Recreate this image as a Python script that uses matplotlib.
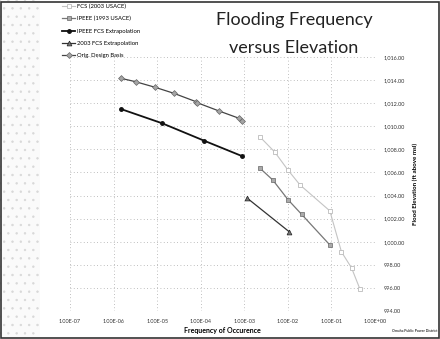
import matplotlib
matplotlib.use("Agg")
import matplotlib.pyplot as plt
from matplotlib.patches import Rectangle
from matplotlib.ticker import FuncFormatter, LogLocator, NullLocator

# Values (frequency per year, elevation ft msl)
fcs_2003_freq = [2.3e-3, 5.0e-3, 1.0e-2, 1.9e-2, 9.2e-2, 0.17, 0.29, 0.45]
fcs_2003_elev = [1009.07, 1007.77, 1006.22, 1004.92, 1002.67, 999.12, 997.73, 995.91]

ipeee_1993_freq = [2.3e-3, 4.5e-3, 1.02e-2, 2.06e-2, 9.2e-2]
ipeee_1993_elev = [1006.36, 1005.35, 1003.62, 1002.38, 999.72]

ipeee_extrap_freq = [1.46e-6, 1.3e-5, 1.2e-4, 8.7e-4]
ipeee_extrap_elev = [1011.50, 1010.26, 1008.75, 1007.43]

fcs_extrap_freq = [1.17e-3, 1.07e-2]
fcs_extrap_elev = [1003.77, 1000.87]

orig_freq = [1.46e-6, 3.2e-6, 8.9e-6, 2.4e-5, 7.8e-5, 8.3e-5, 2.65e-4, 7.6e-4, 8.7e-4]
orig_elev = [1014.16, 1013.86, 1013.38, 1012.86, 1012.13, 1012.04, 1011.32, 1010.69, 1010.48]

series_labels = ["FCS (2003 USACE)", "IPEEE (1993 USACE)", "IPEEE FCS Extrapolation",
                 "2003 FCS Extrapolation", "Orig. Design Basis"]

W, H = 440, 339
fig = plt.figure(figsize=(W / 100, H / 100), dpi=100)
plt.rcParams["font.family"] = ["Lato", "DejaVu Sans"]
plt.rcParams["hatch.linewidth"] = 0.5

# scanned slide texture on the left and a frame round the slide
fig.patches.append(Rectangle((0, 0), 40 / W, 1, transform=fig.transFigure,
                             facecolor="#fafafa", edgecolor="#d8d8d8",
                             hatch="..", lw=0, zorder=0))
fig.patches.append(Rectangle((0.003, 0.004), 0.994, 0.99, transform=fig.transFigure,
                             fill=False, edgecolor="#333333", lw=1.2, zorder=5))

ax = fig.add_axes([70 / W, (H - 311) / H, (375 - 70) / W, (311 - 57) / H])
ax.set_xscale("log")
ax.set_xlim(1e-7, 1e0)
ax.set_ylim(994, 1016)

ax.plot(fcs_2003_freq, fcs_2003_elev, color="#c4c4c4", lw=0.8, marker="s", ms=3,
        mfc="white", mec="#bbbbbb", mew=0.6, label=series_labels[0])
ax.plot(ipeee_1993_freq, ipeee_1993_elev, color="#777777", lw=0.9, marker="s", ms=2.8,
        mfc="#aaaaaa", mec="#666666", mew=0.5, label=series_labels[1])
ax.plot(ipeee_extrap_freq, ipeee_extrap_elev, color="#111111", lw=1.3, marker="o", ms=2.5,
        mfc="#111111", mec="#111111", label=series_labels[2])
ax.plot(fcs_extrap_freq, fcs_extrap_elev, color="#333333", lw=0.9, marker="^", ms=3.5,
        mfc="#777777", mec="#222222", mew=0.5, label=series_labels[3])
ax.plot(orig_freq, orig_elev, color="#444444", lw=0.9, marker="D", ms=3,
        mfc="#a5a5a5", mec="#666666", mew=0.5, label=series_labels[4])

ax.xaxis.set_major_locator(LogLocator(base=10, numticks=10))
ax.xaxis.set_minor_locator(NullLocator())
ax.xaxis.set_major_formatter(FuncFormatter(lambda v, p: f"{v:.2E}"))
ax.set_yticks(range(994, 1017, 2))
ax.yaxis.set_major_formatter(FuncFormatter(lambda v, p: f"{v:,.2f}"))
ax.yaxis.tick_right()
ax.yaxis.set_label_position("right")
ax.tick_params(axis="both", length=0, labelsize=4, colors="#333333", pad=6)
for s in ax.spines.values():
    s.set_visible(False)
ax.grid(True, ls=(0, (1, 3)), color="#aaaaaa", lw=0.6)
ax.set_xlabel("Frequency of Occurence", fontsize=5, fontweight="bold", labelpad=2)
ax.set_ylabel("Flood Elevation (ft above msl)", fontsize=4.5, fontweight="bold", labelpad=6)

fig.text(294 / W, 1 - 20 / H, "Flooding Frequency", ha="center", va="center",
         fontsize=13, color="#222222")
fig.text(294 / W, 1 - 48 / H, "versus Elevation", ha="center", va="center",
         fontsize=13, color="#222222")

fig.legend(loc="upper left", bbox_to_anchor=(60 / W, 1 - 1 / H), frameon=False,
           fontsize=4.2, labelspacing=1.25, handlelength=2.2, handletextpad=0.3,
           borderaxespad=0)

fig.text(415 / W, 1 - 332 / H, "Omaha Public Power District", ha="center",
         fontsize=2.5, fontweight="bold", color="#333333")

fig.savefig("out.png", dpi=100)
